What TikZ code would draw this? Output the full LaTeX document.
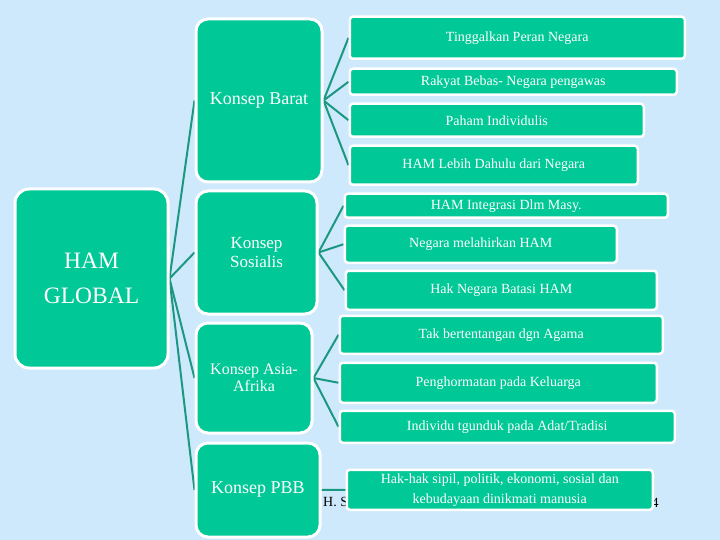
\documentclass[tikz,border=0pt]{standalone}
\usepackage{fontspec}
\setmainfont{Liberation Serif}
\usepackage{xcolor}
\usetikzlibrary{backgrounds}
\definecolor{latar}{HTML}{CDE9FB}
\definecolor{hijau}{HTML}{00C896}
\definecolor{garis}{HTML}{1C9882}
\tikzset{
  % the root box on the left
  akar/.style={
    draw=white, line width=3pt, fill=hijau, rounded corners=14pt,
    text=white, align=center, inner sep=0pt, anchor=north west,
    font=\fontsize{23.5}{35}\selectfont, minimum width=#1},
  % a concept box in the middle column
  konsep/.style={
    draw=white, line width=3pt, fill=hijau, rounded corners=12pt,
    text=white, align=center, inner sep=0pt, anchor=north west,
    font=\fontsize{18}{19}\selectfont, minimum width=#1},
  % a statement box in the right column
  butir/.style={
    draw=white, line width=2.5pt, fill=hijau, rounded corners=3pt,
    text=white, align=center, inner sep=0pt, anchor=north west,
    font=\fontsize{14}{20}\selectfont, minimum width=#1},
  % branches
  cabang/.style={draw=garis, line width=2pt},
  kaki/.style={text=black, inner sep=0pt, font=\fontsize{14}{16}\selectfont},
}

\begin{document}
\begin{tikzpicture}[x=1pt, y=-1pt]

\useasboundingbox (0,0) rectangle (720,540);

% left and middle columns
\node[akar=153pt, minimum height=179pt] (hg) at (13.5,187.5) {HAM\\GLOBAL};

\node[konsep=126pt, minimum height=163pt] (kb) at (194.5,17.5) {Konsep Barat};
\node[konsep=121pt, minimum height=123pt, font=\fontsize{17}{19}\selectfont] (ks) at (194.5,189.5) {Konsep\\Sosialis};
\node[konsep=116pt, minimum height=110pt, font=\fontsize{16}{17}\selectfont] (ka) at (194.5,321.5) {Konsep Asia-\\Afrika};
\node[konsep=124pt, minimum height=94pt] (kp) at (194.5,441.5) {Konsep PBB};

% Konsep Barat
\node[butir=335pt, minimum height=42pt] (t1) at (348.5,15.5) {Tinggalkan Peran Negara};
\node[butir=327pt, minimum height=26pt] (t2) at (348.5,67.5) {Rakyat Bebas- Negara pengawas};
\node[butir=294pt, minimum height=33pt] (t3) at (348.5,102.5) {Paham Individulis};
\node[butir=288pt, minimum height=39pt] (t4) at (348.5,144.5) {HAM Lebih Dahulu dari Negara};

% Konsep Sosialis
\node[butir=323pt, minimum height=24pt] (s1) at (343.5,192.5) {HAM Integrasi Dlm Masy.};
\node[butir=272pt, minimum height=37pt] (s2) at (343.5,224.5) {Negara melahirkan HAM};
\node[butir=311pt, minimum height=39pt] (s3) at (344.5,269.5) {Hak Negara Batasi HAM};

% Konsep Asia-Afrika
\node[butir=323pt, minimum height=38pt] (a1) at (338.5,314.5) {Tak bertentangan dgn Agama};
\node[butir=317pt, minimum height=40pt] (a2) at (338.5,361.5) {Penghormatan pada Keluarga};
\node[butir=335pt, minimum height=32pt] (a3) at (338.5,409.5) {Individu tgunduk pada Adat/Tradisi};

% Konsep PBB, footer text partly hidden behind it
\node[kaki, anchor=west] (kk1) at (323,502) {H. S};
\node[kaki] (kk2) at (655,503) {4};
\node[butir=306pt, minimum height=40pt] (p1) at (345.5,468.5)
  {Hak-hak sipil, politik, ekonomi, sosial dan\\kebudayaan dinikmati manusia};

\begin{scope}[on background layer]
\fill[latar] (0,0) rectangle (720,540);

\draw[cabang] (hg.east) -- (kb.west);
\draw[cabang] (hg.east) -- (ks.west);
\draw[cabang] (hg.east) -- (ka.west);
\draw[cabang] (hg.east) -- (kp.west);

\draw[cabang] (kb.east) -- (t1.west);
\draw[cabang] (kb.east) -- (t2.west);
\draw[cabang] (kb.east) -- (t3.west);
\draw[cabang] (kb.east) -- (t4.west);

\draw[cabang] (ks.east) -- (s1.west);
\draw[cabang] (ks.east) -- (s2.west);
\draw[cabang] (ks.east) -- (s3.west);

\draw[cabang] (ka.east) -- (a1.west);
\draw[cabang] (ka.east) -- (a2.west);
\draw[cabang] (ka.east) -- (a3.west);

\draw[cabang] (kp.east) -- (p1.west);
\end{scope}

\end{tikzpicture}
\end{document}
